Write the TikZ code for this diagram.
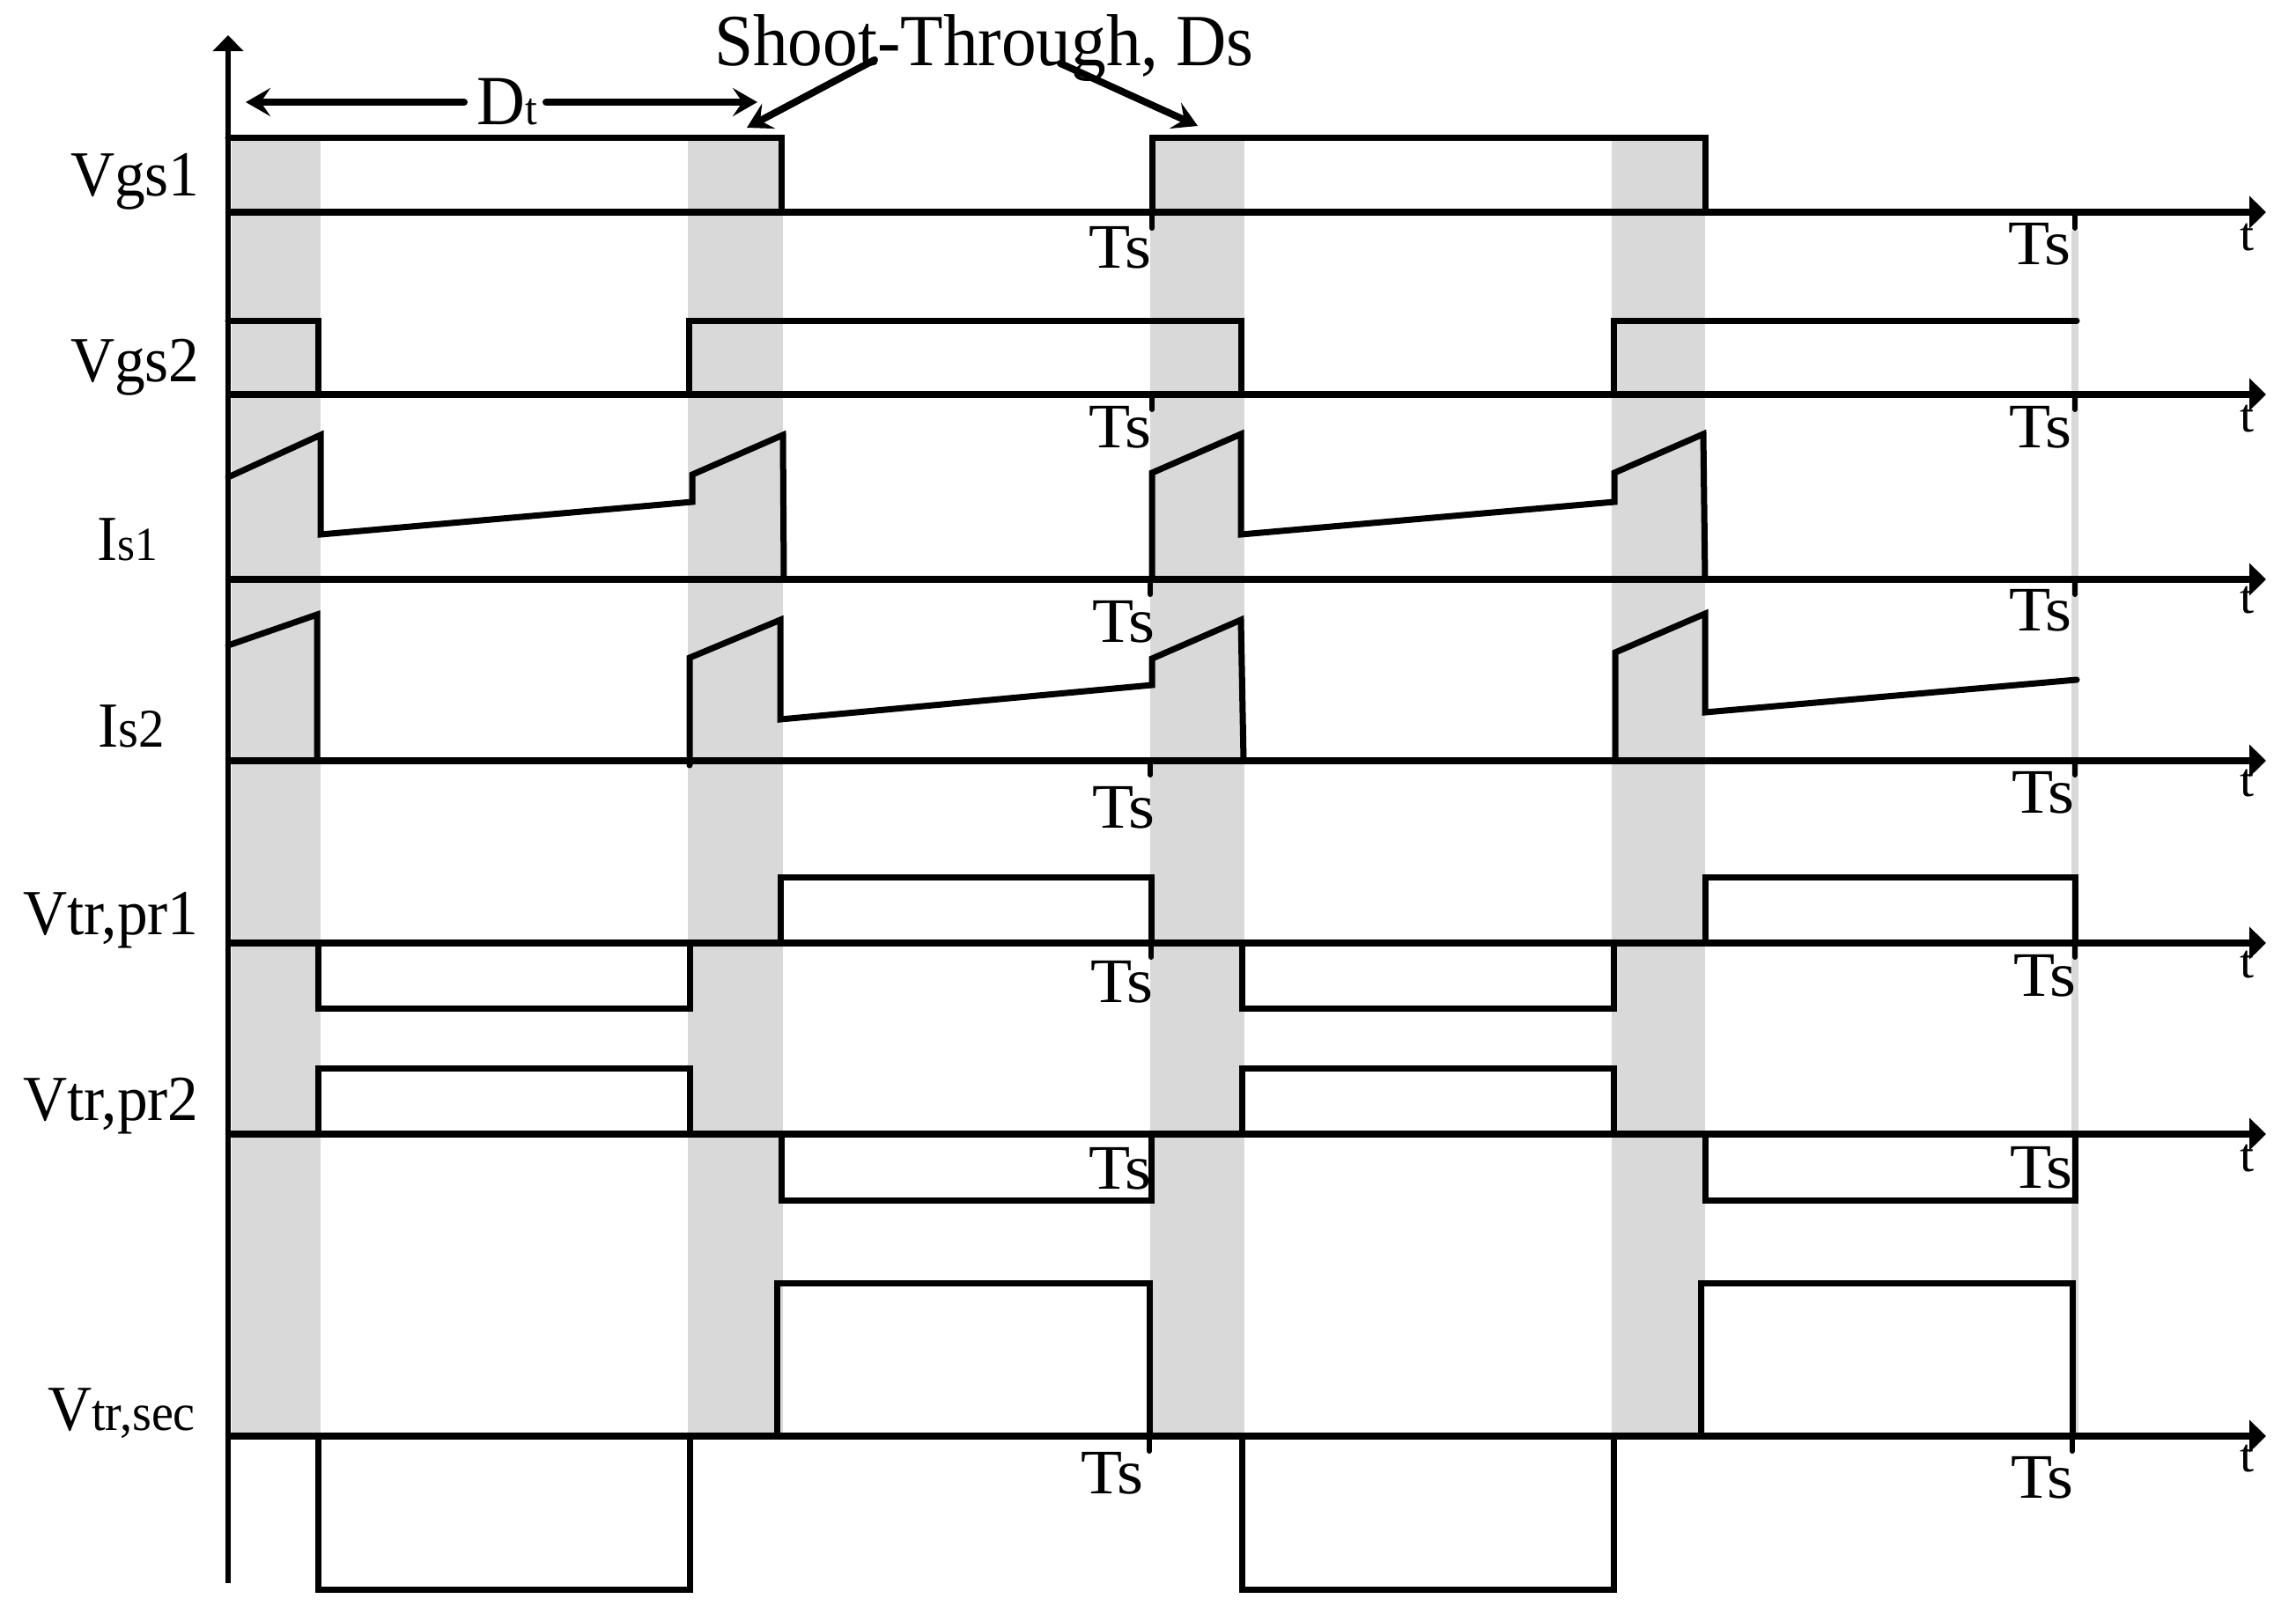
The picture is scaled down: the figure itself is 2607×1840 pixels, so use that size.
\documentclass[tikz,border=0pt]{standalone}
\usepackage{fontspec}
\setmainfont[FakeStretch=0.95]{Liberation Serif}
\newfontfamily\widefont[FakeStretch=1.07]{Liberation Serif}
\usetikzlibrary{arrows.meta}
\newcommand{\fsz}[1]{\fontsize{#1}{#1}\selectfont}
\tikzset{
  x=1pt,y=-1pt,
  wave/.style={line width=7pt,line cap=round,line join=miter,black},
  axisline/.style={line width=7.5pt,black,-{Stealth[length=19pt,width=36pt,inset=0pt]}},
  yaxisline/.style={line width=6pt,black,-{Stealth[length=18pt,width=34pt,inset=0pt]}},
  marker/.style={line width=8pt,line cap=round,black,-{Stealth[length=28pt,width=32pt,inset=11pt]}},
  tick/.style={line width=6pt,line cap=round,black},
  band/.style={fill=bandgray,draw=none},
  lbl/.style={anchor=base west,inner sep=0pt,font=\fsz{73}},
  tslbl/.style={anchor=base east,inner sep=0pt,font=\widefont\fsz{72}},
  tlbl/.style={anchor=base,inner sep=0pt,font=\widefont\fsz{54}},
}
\definecolor{bandgray}{HTML}{D9D9D9}
\begin{document}
\begin{tikzpicture}
\useasboundingbox (0,0) rectangle (2607,1840);
% bands
\fill[band] (263,156) rectangle (364,1631);
\fill[band] (781,156) rectangle (889,1631);
\fill[band] (1306,156) rectangle (1413,1631);
\fill[band] (1830,156) rectangle (1936,1631);
\fill[band] (2352,262) rectangle (2360,1631);
% y axis
\coordinate (ybot) at (259,1798);
\coordinate (ytop) at (259,40);
\draw[yaxisline] (ybot) -- (ytop);
% time axes
\foreach \n/\y in {a/241,b/448,c/658,d/864,e/1071,f/1288,g/1631}{
  \coordinate (\n0) at (259,\y);
  \coordinate (\n1) at (2573,\y);
  \draw[axisline] (\n0) -- (\n1);
}
% ticks
\draw[tick] (1308,241) -- (1308,259);
\draw[tick] (2356,241) -- (2356,259);
\draw[tick] (1308,448) -- (1308,465);
\draw[tick] (2356,448) -- (2356,465);
\draw[tick] (1306,658) -- (1306,675);
\draw[tick] (2356,658) -- (2356,675);
\draw[tick] (1306,864) -- (1306,880);
\draw[tick] (2356,864) -- (2356,880);
\draw[tick] (1307,1071) -- (1307,1087);
\draw[tick] (2356,1071) -- (2356,1087);
\draw[tick] (1305,1631) -- (1305,1648);
\draw[tick] (2353,1631) -- (2353,1648);
% Vgs1
\draw[wave] (259,156) -- (887,156) -- (887,241);
\draw[wave] (1308,241) -- (1308,156) -- (1936,156) -- (1936,241);
% Vgs2
\draw[wave] (259,364) -- (361,364) -- (361,448);
\draw[wave] (782,448) -- (782,364) -- (1409,364) -- (1409,448);
\draw[wave] (1832,448) -- (1832,364) -- (2358,364);
% Is1
\draw[wave] (259,542) -- (364,494) -- (364,607) -- (786,570) -- (786,539) -- (889,494) -- (890,658);
\draw[wave] (1308,658) -- (1308,537) -- (1409,493) -- (1409,607) -- (1833,570) -- (1833,537) -- (1934,493) -- (1936,658);
% Is2
\draw[wave] (259,733) -- (360,698) -- (360,864);
\draw[wave] (783,869) -- (783,747) -- (886,704) -- (886,817) -- (1308,778) -- (1308,748) -- (1409,704) -- (1412,864);
\draw[wave] (1834,864) -- (1834,741) -- (1936,697) -- (1936,809) -- (2358,772);
% Vtr,pr1
\draw[wave] (886,1071) -- (886,996) -- (1307,996) -- (1307,1071);
\draw[wave] (1936,1071) -- (1936,996) -- (2356,996) -- (2356,1071);
\draw[wave] (361,1071) -- (361,1145) -- (783,1145) -- (783,1071);
\draw[wave] (1410,1071) -- (1410,1145) -- (1832,1145) -- (1832,1071);
% Vtr,pr2
\draw[wave] (361,1288) -- (361,1213) -- (783,1213) -- (783,1288);
\draw[wave] (1410,1288) -- (1410,1213) -- (1832,1213) -- (1832,1288);
\draw[wave] (887,1288) -- (887,1363) -- (1307,1363) -- (1307,1288);
\draw[wave] (1936,1288) -- (1936,1363) -- (2356,1363) -- (2356,1288);
% Vtr,sec
\draw[wave] (882,1631) -- (882,1457) -- (1305,1457) -- (1305,1631);
\draw[wave] (1931,1631) -- (1931,1457) -- (2353,1457) -- (2353,1631);
\draw[wave] (361,1631) -- (361,1805) -- (783,1805) -- (783,1631);
\draw[wave] (1410,1631) -- (1410,1805) -- (1832,1805) -- (1832,1631);
% labels
\node[lbl] (vgsa) at (80,222) {Vgs1};
\node[lbl] (vgsb) at (80,433) {Vgs2};
\node[lbl] (isa) at (110,636) {I\fsz{54}s1};
\node[lbl] (isb) at (111,848) {I\fsz{62}s2};
\node[lbl] (vpa) at (26,1061) {Vtr,pr1};
\node[lbl] (vpb) at (26,1272) {Vtr,pr2};
\node[lbl] (vsec) at (54,1624) {V\fsz{59}tr,sec};
\node[lbl,font=\fsz{80}] (dt) at (541,141) {D\fsz{52}t};
\node[lbl,font=\fsz{83.5}] (shoot) at (811,74) {Shoot-Through, Ds};
% Ts labels
\foreach \nm/\r/\b in {ta/1308/304,tb/2352/300,tc/1308/508,td/2353/508,te/1312/729,tf/2353/716,tg/1312/940,th/2356/923,ti/1310/1138,tj/2358/1131,tk/1308/1350,tl/2354/1349,tm/1299/1696,tn/2355/1701}{
  \node[tslbl] (\nm) at (\r,\b) {Ts};
}
% t labels
\foreach \nm/\b in {ua/284,ub/490,uc/696,ud/904,ue/1110,uf/1330,ug/1671}{
  \node[tlbl] (\nm) at (2551,\b) {t};
}
% marker arrows
\coordinate (dtl) at (279,116);
\coordinate (dtlb) at (527,116);
\coordinate (dtr) at (860,116);
\coordinate (dtrb) at (620,116);
\draw[marker] (dtlb) -- (dtl);
\draw[marker] (dtrb) -- (dtr);
\coordinate (sa) at (993,68);
\coordinate (sat) at (848,145);
\coordinate (sb) at (1204,72);
\coordinate (sbt) at (1360,143);
\draw[marker] (sa) -- (sat);
\draw[marker] (sb) -- (sbt);
\end{tikzpicture}
\end{document}
